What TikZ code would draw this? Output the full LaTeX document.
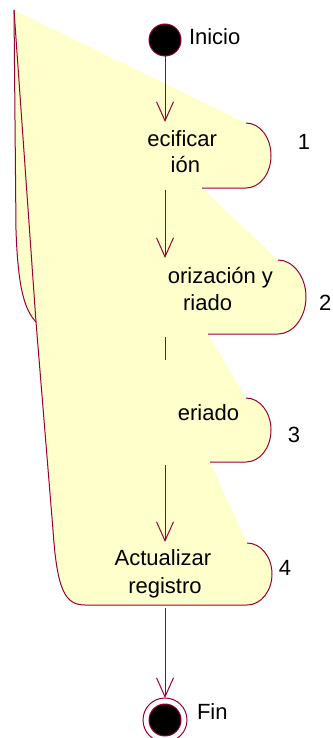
\documentclass[tikz,border=0pt]{standalone}
\usepackage{fontspec}
\setmainfont{Liberation Sans}
\usetikzlibrary{arrows.meta,positioning}
\definecolor{rosered}{RGB}{153,0,51}
\definecolor{actyellow}{RGB}{255,255,204}

\begin{document}
\begin{tikzpicture}[x=1pt,y=-1pt,>={Straight Barb[length=19pt,width=17pt]},line width=1pt,font=\fontsize{22}{24}\selectfont]
	\tikzstyle{every node}=[inner sep=0pt,outer sep=0pt]
	\tikzstyle{dot}=[circle,fill=black,draw=rosered,minimum size=32pt]
	\tikzstyle{flow}=[->,draw=rosered]
	\tikzstyle{rim}=[draw=rosered]

	\useasboundingbox (0,0) rectangle (332,738);

	% relleno de las actividades
	\fill[actyellow] (14,10) -- (246,123)
		.. controls (260,123) and (271,137.6) .. (271,155.5)
		.. controls (271,173.4) and (260,188) .. (246,188) -- (202,188) -- (278,260)
		.. controls (293,260) and (306,276.6) .. (306,297)
		.. controls (306,317.4) and (293,334) .. (278,334) -- (208,334) -- (246,398)
		.. controls (260,398) and (271,412.4) .. (271,430)
		.. controls (271,447.6) and (260,462) .. (246,462) -- (210,462) -- (247,543)
		.. controls (261,543) and (272,557) .. (272,574)
		.. controls (272,591) and (261,605) .. (247,605) -- (85,605)
		.. controls (65,605) and (57,590) .. (53,530) -- (36,322)
		.. controls (25,310) and (18,290) .. (16,230) -- cycle;

	% bordes
	\draw[rim] (14,10) -- (16,230) .. controls (18,290) and (25,310) .. (36,322);
	\draw[rim] (14,10) -- (36,322) -- (53,530) .. controls (57,590) and (65,605) .. (85,605) -- (247,605)
		.. controls (261,605) and (272,591) .. (272,574)
		.. controls (272,557) and (261,543) .. (247,543);
	\draw[rim] (246,123) .. controls (260,123) and (271,137.6) .. (271,155.5)
		.. controls (271,173.4) and (260,188) .. (246,188) -- (202,188);
	\draw[rim] (278,260) .. controls (293,260) and (306,276.6) .. (306,297)
		.. controls (306,317.4) and (293,334) .. (278,334) -- (208,334);
	\draw[rim] (246,398) .. controls (260,398) and (271,412.4) .. (271,430)
		.. controls (271,447.6) and (260,462) .. (246,462) -- (210,462);

	% inicio y fin
	\node[dot] (inicio) at (165,40) {};
	\node[anchor=base west] (inicioL) at (189,45) {Inicio};
	\node[circle,draw=rosered,fill=white,minimum size=44pt] (fin) at (165,720) {};
	\node[dot] (finpunto) at (fin) {};
	\node[anchor=base west] (finL) at (197,719) {Fin};

	% textos
	\node[anchor=base east] (t1a) at (217,147) {ecificar};
	\node[anchor=base east] (t1b) at (200,173) {ión};
	\node[anchor=base east] (t2a) at (273,283) {orización y};
	\node[anchor=base east] (t2b) at (232,310) {riado};
	\node[anchor=base east] (t3a) at (239,420) {eriado};
	\node[anchor=base] (t4a) at (163,565) {Actualizar};
	\node[anchor=base] (t4b) at (165,593) {registro};

	\node[anchor=base] (n1) at (304,150) {1};
	\node[anchor=base west] (n2) at (319,310) {2};
	\node[anchor=base] (n3) at (294,442) {3};
	\node[anchor=base] (n4) at (285,575) {4};

	% puntos de las transiciones
	\coordinate (a1in) at (165,122);
	\coordinate (a1out) at (165,190);
	\coordinate (a2in) at (165,258);
	\coordinate (a2out) at (165,337);
	\coordinate (a2cut) at (165,360);
	\coordinate (a3out) at (165,465);
	\coordinate (a4in) at (165,542);
	\coordinate (a4out) at (165,608);

	\draw[flow] (inicio) -- (a1in);
	\draw[flow] (a1out) -- (a2in);
	\draw[rim] (a2out) -- (a2cut);
	\draw[flow] (a3out) -- (a4in);
	\draw[flow] (a4out) -- (fin);
\end{tikzpicture}
\end{document}
